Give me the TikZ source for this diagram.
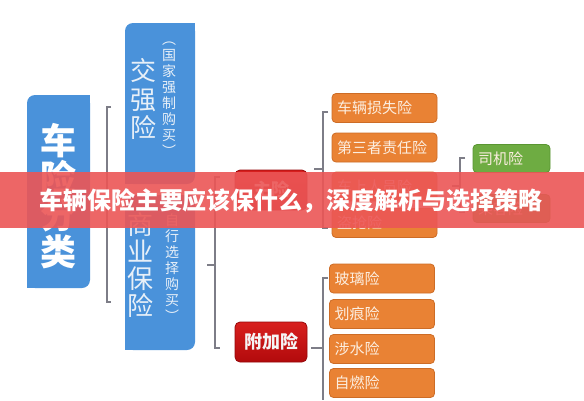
\documentclass[tikz,border=0pt]{standalone}
\usepackage{fontspec}
\setmainfont{Noto Sans CJK SC}
\definecolor{bluebox}{RGB}{74,146,218}
\definecolor{blueText}{RGB}{232,240,248}
\definecolor{orangebox}{RGB}{233,130,52}
\definecolor{orangeD}{RGB}{205,108,38}
\definecolor{orangeText}{RGB}{252,238,224}
\definecolor{redT}{RGB}{216,32,30}
\definecolor{redB}{RGB}{178,10,12}
\definecolor{redD}{RGB}{150,8,10}
\definecolor{greenbox}{RGB}{110,172,66}
\definecolor{greenD}{RGB}{90,150,50}
\definecolor{brk}{RGB}{125,125,135}
\definecolor{banner}{RGB}{236,86,86}
\tikzset{
  vtext/.style={align=center, inner sep=0pt, text=blueText},
  obox/.style={draw=orangeD, line width=0.8pt, fill=orangebox, rounded corners=4pt,
     minimum height=29pt, text width=95pt, inner xsep=5pt, inner ysep=0pt, align=left,
     text=orangeText, font=\fontsize{15}{15}\selectfont},
  gbox/.style={draw=greenD, line width=0.8pt, fill=greenbox, rounded corners=4pt,
     minimum height=28pt, text width=67pt, inner xsep=5pt, inner ysep=0pt, align=left,
     text=orangeText, font=\fontsize{15}{15}\selectfont},
  rbox/.style={draw=redD, line width=0.8pt, top color=redT, bottom color=redB, rounded corners=5pt,
     minimum width=72pt, minimum height=40pt, inner sep=0pt,
     text=white!92!gray, font=\fontsize{18}{18}\selectfont\bfseries},
  brkline/.style={draw=brk, line width=1.1pt},
}
\begin{document}
\begin{tikzpicture}[x=1pt,y=-1pt]
\useasboundingbox (0,0) rectangle (584,400);
\fill[white] (0,0) rectangle (584,400);

% blue leaf boxes
\fill[bluebox, rounded corners=8pt] (27,95) rectangle (90,288);
\fill[bluebox] (80,95) rectangle (90,105);
\fill[bluebox] (27,278) rectangle (37,288);
\node[vtext, text=white, font=\fontsize{36}{37}\selectfont\bfseries] (chexian) at (58,196) {车\\险\\分\\类};

\fill[bluebox, rounded corners=8pt] (125,23) rectangle (195,184);
\fill[bluebox] (185,23) rectangle (195,33);
\fill[bluebox] (125,174) rectangle (135,184);
\node[vtext, font=\fontsize{26}{28.5}\selectfont] (jqx) at (143,99) {交\\强\\险};
\node[vtext, font=\fontsize{14}{16}\selectfont] (jqxn) at (169,99) {︵\\国\\家\\强\\制\\购\\买\\︶};

\fill[bluebox, rounded corners=8pt] (125,195) rectangle (195,350);
\fill[bluebox] (185,195) rectangle (195,205);
\fill[bluebox] (125,340) rectangle (135,350);
\node[vtext, font=\fontsize{26}{27}\selectfont] (syx) at (140,265) {商\\业\\保\\险};
\node[vtext, font=\fontsize{14}{16}\selectfont] (syxn) at (172,264) {︵\\自\\行\\选\\择\\购\\买\\︶};

% brackets
\draw[brkline] (111,107) -- (107,107) -- (107,302) -- (111,302);
\draw[brkline] (100,205) -- (107,205);
\draw[brkline] (220,177) -- (215,177) -- (215,348) -- (220,348);
\draw[brkline] (207,265) -- (215,265);
\draw[brkline] (328,112) -- (323,112) -- (323,228) -- (328,228);
\draw[brkline] (314,169) -- (323,169);
\draw[brkline] (465,158) -- (460,158) -- (460,212) -- (465,212);
\draw[brkline] (452,186) -- (460,186);
\draw[brkline] (328,278) -- (323,278) -- (323,400);
\draw[brkline] (311,348) -- (323,348);

% red boxes
\node[rbox] (zhu) at (271,190) {主险};
\node[rbox] (fujia) at (271,342) {附加险};

% orange boxes
\node[obox] (o1) at (384.5,108) {车辆损失险};
\node[obox] (o2) at (384.5,147.5) {第三者责任险};
\node[obox] (o3) at (384.5,186.5) {车上人员险};
\node[obox] (o4) at (384.5,223) {盗抢险};

\node[obox] (p1) at (382,278.5) {玻璃险};
\node[obox] (p2) at (382,314) {划痕险};
\node[obox] (p3) at (382,349) {涉水险};
\node[obox] (p4) at (382,383) {自燃险};

% green boxes
\node[gbox] (g1) at (511.5,158.5) {司机险};
\node[gbox] (g2) at (511.5,208.5) {乘客险};

% banner
\fill[banner, opacity=0.9] (0,172) rectangle (584,228);
\node[text=white, inner sep=0pt, font=\fontsize{24}{24}\selectfont\bfseries] (title) at (291,201) {车辆保险主要应该保什么，深度解析与选择策略};
\end{tikzpicture}
\end{document}
